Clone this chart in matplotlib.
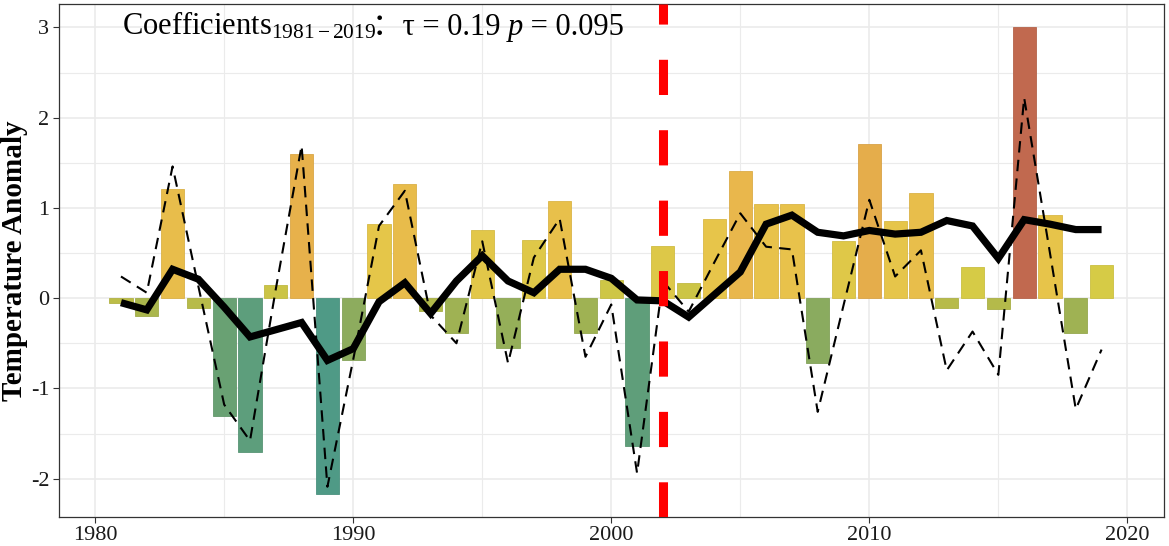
"""Annual temperature anomaly bars with raw and smoothed series."""

import matplotlib
matplotlib.use("Agg")
import matplotlib.pyplot as plt
import numpy as np
from matplotlib.colors import LinearSegmentedColormap, Normalize, to_rgb
from matplotlib.ticker import MultipleLocator

OUTPUT_PLOT = "out.png"

years = list(range(1981, 2020))
anomaly = [
    -0.05, -0.20, 1.21, -0.11, -1.31, -1.71, 0.15, 1.60, -2.17, -0.68,
    0.82, 1.26, -0.14, -0.39, 0.75, -0.55, 0.64, 1.08, -0.39, 0.20,
    -1.64, 0.58, 0.17, 0.88, 1.41, 1.04, 1.04, -0.72, 0.63, 1.71,
    0.86, 1.17, -0.11, 0.35, -0.12, 3.00, 0.92, -0.39, 0.37,
]
raw_series = [
    0.24, 0.06, 1.46, 0.13, -1.18, -1.58, 0.10, 1.69, -2.09, -0.68,
    0.80, 1.19, -0.19, -0.50, 0.63, -0.72, 0.45, 0.88, -0.65, -0.07,
    -1.94, 0.19, -0.15, 0.40, 0.94, 0.57, 0.54, -1.26, -0.08, 1.09,
    0.24, 0.53, -0.80, -0.37, -0.85, 2.22, 0.50, -1.23, -0.57,
]
smooth_series = [
    -0.05, -0.13, 0.32, 0.21, -0.10, -0.43, -0.35, -0.27, -0.69, -0.56,
    -0.04, 0.17, -0.17, 0.19, 0.47, 0.19, 0.06, 0.32, 0.32, 0.22,
    -0.02, -0.03, -0.21, 0.04, 0.29, 0.82, 0.92, 0.73, 0.69, 0.75,
    0.71, 0.73, 0.86, 0.80, 0.44, 0.87, 0.82, 0.76, 0.76,
]
break_year = 2002
tau = 0.19
p_value = 0.095

plt.rcParams["font.family"] = ["Liberation Serif", "Noto Sans CJK SC", "DejaVu Sans"]
plt.rcParams["mathtext.fontset"] = "custom"
plt.rcParams["mathtext.rm"] = "Liberation Serif"
plt.rcParams["mathtext.it"] = "Liberation Serif:italic"
plt.rcParams["axes.unicode_minus"] = False

# fill colours roughly as they appear in the picture, from coldest to warmest
stops = [
    (-2.17, "#4f9a86"), (-1.3, "#6aa173"), (-0.7, "#8cac5e"), (-0.2, "#aab64c"),
    (0.0, "#c4c046"), (0.35, "#d6cb46"), (0.9, "#e7c54a"), (1.4, "#e9b84c"),
    (1.7, "#e6ae4b"), (3.0, "#c1694f"),
]
vmin, vmax = stops[0][0], stops[-1][0]
cmap = LinearSegmentedColormap.from_list(
    "anom", [((v - vmin) / (vmax - vmin), c) for v, c in stops])
norm = Normalize(vmin, vmax)


def place_pieces(ax, pieces, x, y):
    """Write text chunks left to right on one baseline; dx nudges a chunk in pixels."""
    renderer = ax.figure.canvas.get_renderer()
    trans = ax.transAxes
    for text, kw, dx in pieces:
        px, py = trans.transform((x, y))
        t = ax.text(px + dx, py, text, transform=None, ha="left", va="baseline", **kw)
        bb = t.get_window_extent(renderer)
        x = trans.inverted().transform((bb.x1, bb.y0))[0]


fig = plt.figure(figsize=(11.69, 5.46), dpi=100)
ax = fig.add_axes([0.0505, 0.054, 0.9448, 0.9387])

colors = [cmap(norm(v)) for v in anomaly]
edges = [tuple(0.94 * c for c in to_rgb(col)) for col in colors]
ax.bar(years, anomaly, width=0.9, color=colors, edgecolor=edges, linewidth=0.6, zorder=2)

raw_line, = ax.plot(years, raw_series, color="black", lw=1.5, zorder=3)
raw_line.set_dashes((5.5, 3.5))
ax.plot(years, smooth_series, color="black", lw=5.2, zorder=4,
        solid_joinstyle="miter", solid_capstyle="butt")
vline = ax.axvline(break_year, color="#ff0000", lw=6.5, zorder=5)
vline.set_dashes((3.9, 3.9))

ax.set_xlim(1978.6, 2021.4)
ax.set_ylim(-2.42, 3.26)
ax.xaxis.set_major_locator(MultipleLocator(10))
ax.xaxis.set_minor_locator(MultipleLocator(5))
ax.yaxis.set_major_locator(MultipleLocator(1))
ax.yaxis.set_minor_locator(MultipleLocator(0.5))
ax.grid(which="major", color="#ebebeb", lw=1.2, zorder=0)
ax.grid(which="minor", color="#ebebeb", lw=0.8, zorder=0)
ax.set_axisbelow(True)
ax.tick_params(which="major", length=4, width=0.8, color="#333333",
               labelsize=16, labelcolor="#1a1a1a", pad=3)
ax.tick_params(which="minor", length=0)
for spine in ax.spines.values():
    spine.set_color("#333333")
    spine.set_linewidth(0.9)

ax.set_ylabel("Temperature Anomaly", fontsize=21, fontweight="bold")
ax.yaxis.set_label_coords(-0.028, 0.5)

place_pieces(ax, [
    (r"Coefficients$_{1981-2019}$", dict(fontsize=22), 0),
    (f"：τ = {tau}", dict(fontsize=22), -4),
    ("p", dict(fontsize=22, style="italic"), 7),
    (f" = {p_value}", dict(fontsize=22), 0),
], 0.0568, 0.9395)

fig.savefig(OUTPUT_PLOT, dpi=100)
plt.close(fig)
